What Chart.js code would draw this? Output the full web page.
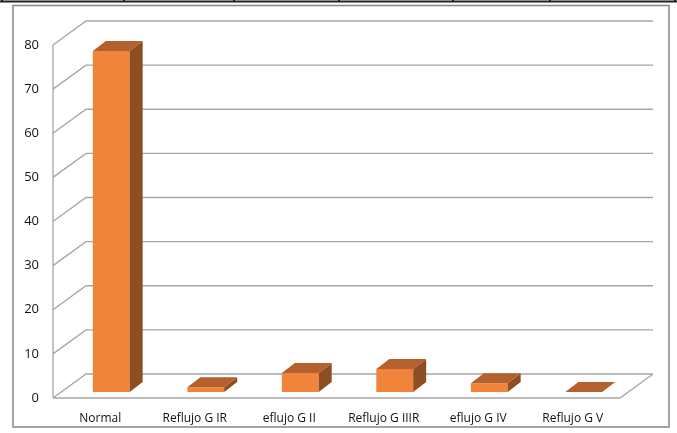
<!DOCTYPE html>
<html>
<head>
<meta charset="utf-8">
<script src="https://cdn.jsdelivr.net/npm/chart.js@4/dist/chart.umd.min.js"></script>
<style>
  html, body { margin: 0; padding: 0; background: #fff; }
  #wrap { position: relative; width: 677px; height: 433px; }
</style>
</head>
<body>
<div id="wrap"><canvas id="myChart" width="677" height="433"></canvas></div>
<script>
var categories = ['Normal', 'Reflujo G IR', 'eflujo G II', 'Reflujo G IIIR', 'eflujo G IV', 'Reflujo G V'];
var values = [77.3, 1.1, 4.3, 5.2, 2.0, 0];
var yTicks = [0, 10, 20, 30, 40, 50, 60, 70, 80];

// fake 3d: wall depth and bar depth offsets (px)
var WALL_DX = 33, WALL_DY = 24;
var BAR_SHIFT_X = 11, BAR_SHIFT_Y = 6;
var BAR_DX = 13, BAR_DY = 10;

var gridColor = '#a6a6a6';

var frame3d = {
  id: 'frame3d',
  beforeDraw: function(chart) {
    var ctx = chart.ctx;
    var area = chart.chartArea;
    var y = chart.scales.y;
    ctx.save();

    // bottom edge of the table row above the chart
    ctx.strokeStyle = '#222';
    ctx.lineWidth = 2;
    ctx.beginPath();
    ctx.moveTo(0, 1.5); ctx.lineTo(677, 1.5);
    [2, 124, 234, 339, 453, 550, 675].forEach(function(x) {
      ctx.moveTo(x, 0); ctx.lineTo(x, 2.5);
    });
    ctx.stroke();

    // outer frame
    ctx.strokeStyle = '#868686';
    ctx.lineWidth = 1.5;
    ctx.strokeRect(13, 5.5, 656, 421.5);

    ctx.strokeStyle = gridColor;
    ctx.lineWidth = 1.3;
    ctx.beginPath();
    yTicks.forEach(function(v) {
      var py = y.getPixelForValue(v);
      // side wall diagonal + back wall line
      ctx.moveTo(area.left, py);
      ctx.lineTo(area.left + WALL_DX, py - WALL_DY);
      ctx.lineTo(area.right + WALL_DX, py - WALL_DY);
    });
    // floor front edge and right edge
    var p0 = y.getPixelForValue(0);
    ctx.moveTo(area.left, p0);
    ctx.lineTo(area.right, p0);
    ctx.lineTo(area.right + WALL_DX, p0 - WALL_DY);
    // left wall front edge
    ctx.moveTo(area.left, y.getPixelForValue(80));
    ctx.lineTo(area.left, p0);
    ctx.stroke();
    ctx.restore();
  },
  beforeDatasetsDraw: function(chart) {
    chart.ctx.save();
    chart.ctx.translate(BAR_SHIFT_X, -BAR_SHIFT_Y);
  },
  afterDatasetsDraw: function(chart) {
    var ctx = chart.ctx;
    var meta = chart.getDatasetMeta(0);
    meta.data.forEach(function(bar) {
      var l = bar.x - bar.width / 2, r = bar.x + bar.width / 2;
      var top = bar.y, base = bar.base;
      // side face
      ctx.fillStyle = '#8d4f22';
      ctx.beginPath();
      ctx.moveTo(r, top);
      ctx.lineTo(r + BAR_DX, top - BAR_DY);
      ctx.lineTo(r + BAR_DX, base - BAR_DY);
      ctx.lineTo(r, base);
      ctx.closePath();
      ctx.fill();
      // top face
      ctx.fillStyle = '#b4612e';
      ctx.beginPath();
      ctx.moveTo(l, top);
      ctx.lineTo(l + BAR_DX, top - BAR_DY);
      ctx.lineTo(r + BAR_DX, top - BAR_DY);
      ctx.lineTo(r, top);
      ctx.closePath();
      ctx.fill();
    });
    ctx.restore();
  }
};

var ctx = document.getElementById('myChart');
var chart = new Chart(ctx, {
  type: 'bar',
  data: {
    labels: categories,
    datasets: [{
      data: values,
      backgroundColor: '#f0843a',
      borderWidth: 0,
      categoryPercentage: 1,
      barPercentage: 0.39
    }]
  },
  options: {
    responsive: false,
    animation: false,
    events: [],
    layout: { padding: { top: 45, right: 57, left: 0, bottom: 0 } },
    plugins: { legend: { display: false }, tooltip: { enabled: false } },
    scales: {
      x: {
        grid: { display: false },
        border: { display: false },
        ticks: { color: '#111', font: { family: 'Open Sans', size: 12 }, padding: 5, maxRotation: 0, autoSkip: false },
        afterFit: function(scale) { scale.height = 35; }
      },
      y: {
        min: 0,
        max: 80,
        afterBuildTicks: function(scale) {
          scale.ticks = yTicks.map(function(v) { return { value: v }; });
        },
        grid: { display: false },
        border: { display: false },
        ticks: { color: '#111', font: { family: 'Open Sans', size: 13 }, padding: 6 },
        afterFit: function(scale) { scale.width = 53; }
      }
    }
  },
  plugins: [frame3d]
});
</script>
</body>
</html>
